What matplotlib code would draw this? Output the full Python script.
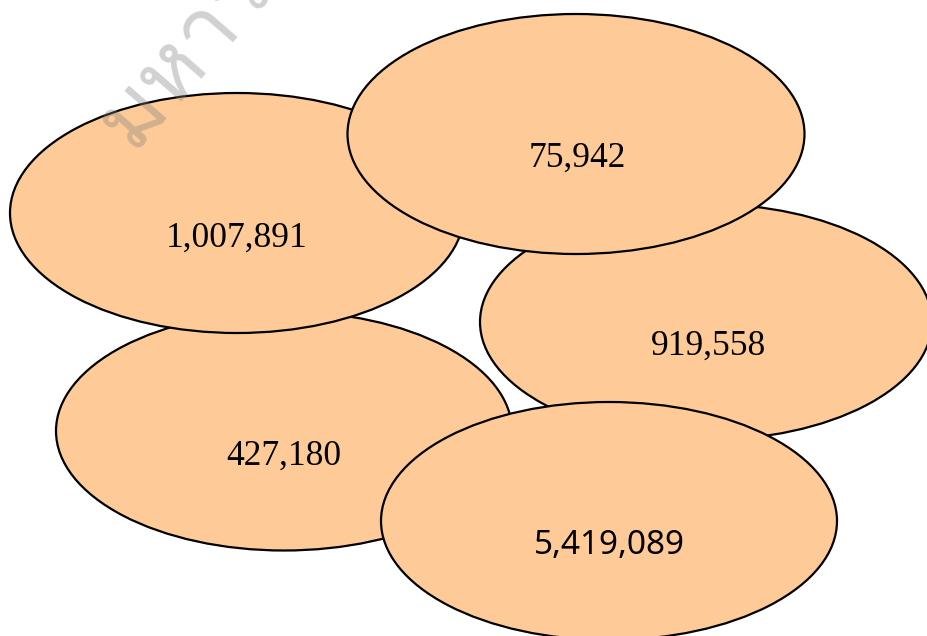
import matplotlib
matplotlib.use("Agg")
import matplotlib.pyplot as plt
from matplotlib.patches import Ellipse
from matplotlib import font_manager
from matplotlib.ft2font import FT2Font

# Data
values = [427180, 919558, 1007891, 75942, 5419089]
labels = [f"{v:,}" for v in values]

# Layout (pixel coordinates of ellipse centres, label positions)
centers = [(284, 431), (706, 322), (237, 213), (576, 134), (609, 521)]
sizes = [(456, 239), (452, 236), (454, 240), (457, 240), (456, 238)]
label_pos = [(284, 456), (709, 346), (237, 238), (577, 158), (609, 545)]
fill = "#FECB98"

# find a font with Thai glyphs for the watermark
thai_font = None
for f in font_manager.fontManager.ttflist:
    try:
        ft = FT2Font(f.fname)
        if ord("ม") in ft.get_charmap():
            thai_font = f.name
            break
    except Exception:
        pass

fig = plt.figure(figsize=(9.28, 6.36), dpi=100)
ax = fig.add_axes([0, 0, 1, 1])
ax.set_xlim(0, 928)
ax.set_ylim(636, 0)
ax.axis("off")

for i, (c, s, lab, lp) in enumerate(zip(centers, sizes, labels, label_pos)):
    e = Ellipse(c, s[0], s[1], facecolor=fill, edgecolor="black", linewidth=1.6, zorder=i * 2 + 1)
    ax.add_patch(e)
    if lab == "5,419,089":
        ax.text(lp[0], lp[1], lab, ha="center", va="center", fontsize=24,
                family="Noto Sans", fontweight="light", zorder=i * 2 + 2)
    else:
        ax.text(lp[0], lp[1], lab, ha="center", va="center", fontsize=25.5,
                family="Liberation Serif", zorder=i * 2 + 2)

wm_kw = dict(fontsize=64, color="gray", alpha=0.36, rotation=49,
             rotation_mode="anchor", ha="left", va="baseline", zorder=20,
             fontweight="light")
if thai_font:
    wm_kw["family"] = [thai_font, "DejaVu Sans"]
ax.text(133, 152, "มหาวิทยาลัย", **wm_kw)

fig.savefig("out.png", dpi=100)
